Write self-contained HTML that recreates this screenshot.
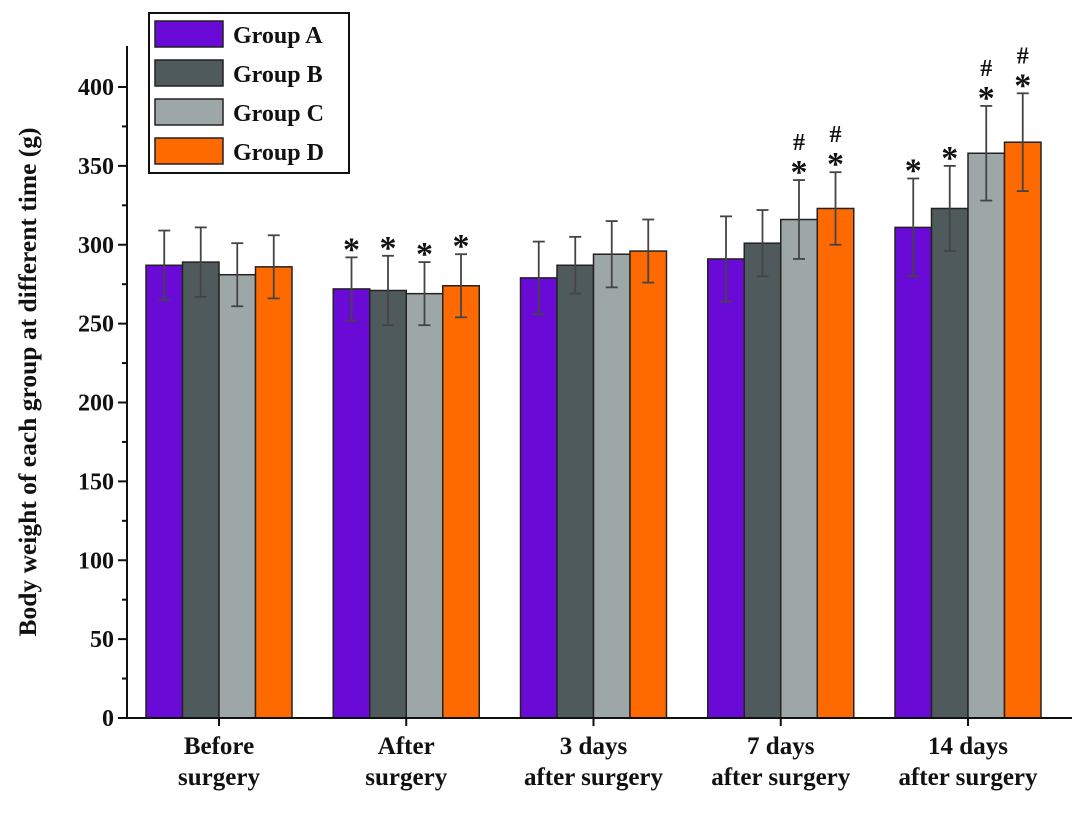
<!DOCTYPE html>
<html><head><meta charset="utf-8"><style>
body{margin:0;background:#fff}
svg text{font-family:"Liberation Serif",serif;font-weight:bold;fill:#111}
</style></head><body>
<svg id="chart" width="1087" height="809" xmlns="http://www.w3.org/2000/svg"></svg>
<script>
const categories=[["Before","surgery"],["After","surgery"],["3 days","after surgery"],["7 days","after surgery"],["14 days","after surgery"]];
const groups=["Group A","Group B","Group C","Group D"];
const colors=["#6a0ad6","#4f5a5c","#9ea7a8","#ff6a00"];
const valuesA=[287,272,279,291,311];
const valuesB=[289,271,287,301,323];
const valuesC=[281,269,294,316,358];
const valuesD=[286,274,296,323,365];
const errA=[22,20,23,27,31];
const errB=[22,22,18,21,27];
const errC=[20,20,21,25,30];
const errD=[20,20,20,23,31];
const marksA=["","*","","","*"];
const marksB=["","*","","","*"];
const marksC=["","*","","#*","#*"];
const marksD=["","*","","#*","#*"];
const yTicks=[0,50,100,150,200,250,300,350,400];
const yMax=425;

const svg=document.getElementById('chart');
const NS="http://www.w3.org/2000/svg";
function mk(t,a,p){const e=document.createElementNS(NS,t);for(const k in a)e.setAttribute(k,a[k]);(p||svg).appendChild(e);return e;}
const x0=127,y0=718,yTop=46;
const y=v=>y0-v*(718-87)/400;
const firstC=219,step=187.25,bw=36.5;
const xc=i=>firstC+i*step;
const series=[valuesA,valuesB,valuesC,valuesD];
const errs=[errA,errB,errC,errD];
const marks=[marksA,marksB,marksC,marksD];

for(let g=0;g<4;g++){
  for(let i=0;i<categories.length;i++){
    const v=series[g][i],e=errs[g][i];
    const left=xc(i)-2*bw+g*bw;
    const r=mk('rect',{x:left,y:y(v),width:bw,height:y0-y(v),fill:colors[g],stroke:'#222','stroke-width':1.5});
    
    
    const cx=left+bw/2;
    const eg=mk('g',{stroke:'#444','stroke-width':1.8});
    
    
    mk('line',{x1:cx,x2:cx,y1:y(v+e),y2:y(v-e)},eg);
    mk('line',{x1:cx-6,x2:cx+6,y1:y(v+e),y2:y(v+e)},eg);
    mk('line',{x1:cx-6,x2:cx+6,y1:y(v-e),y2:y(v-e)},eg);
    const m=marks[g][i];
    if(m.includes('*')){const t=mk('text',{x:cx,y:y(v+e)+3,'text-anchor':'middle','font-size':34});t.textContent='*';
      }
    if(m.includes('#')){const t=mk('text',{x:cx,y:y(v+e)-30,'text-anchor':'middle','font-size':24});t.textContent='#';
      }
  }
}
const ax=mk('g',{stroke:'#111','stroke-width':2});

mk('line',{x1:x0,x2:x0,y1:yTop,y2:y0},ax);
mk('line',{x1:x0,x2:1072,y1:y0,y2:y0},ax);
for(let v=25;v<yMax;v+=50){mk('line',{x1:x0-5,x2:x0,y1:y(v),y2:y(v)},ax);}
yTicks.forEach(v=>{
  mk('line',{x1:x0-9,x2:x0,y1:y(v),y2:y(v)},ax);
  const t=mk('text',{x:x0-13,y:y(v)+8,'text-anchor':'end','font-size':24});t.textContent=v;
  
});
categories.forEach((c,i)=>{
  mk('line',{x1:xc(i),x2:xc(i),y1:y0,y2:y0+8},ax);
  c.forEach((s,j)=>{const t=mk('text',{x:xc(i),y:754+j*31,'text-anchor':'middle','font-size':25});t.textContent=s;
    });
});
const yt=mk('text',{x:0,y:0,transform:'translate(36,382) rotate(-90)','text-anchor':'middle','font-size':25.5});
yt.textContent='Body weight of each group at different time (g)';

const lg=mk('g',{});

mk('rect',{x:149,y:13,width:200,height:160,fill:'#fff',stroke:'#111','stroke-width':2},lg);
groups.forEach((g,i)=>{
  const e=mk('g',{},lg);
  
  mk('rect',{x:155,y:21+i*39,width:68,height:26,fill:colors[i],stroke:'#222','stroke-width':1.5},e);
  const t=mk('text',{x:233,y:43+i*39,'font-size':24},e);t.textContent=g;
});
</script>
</body></html>
